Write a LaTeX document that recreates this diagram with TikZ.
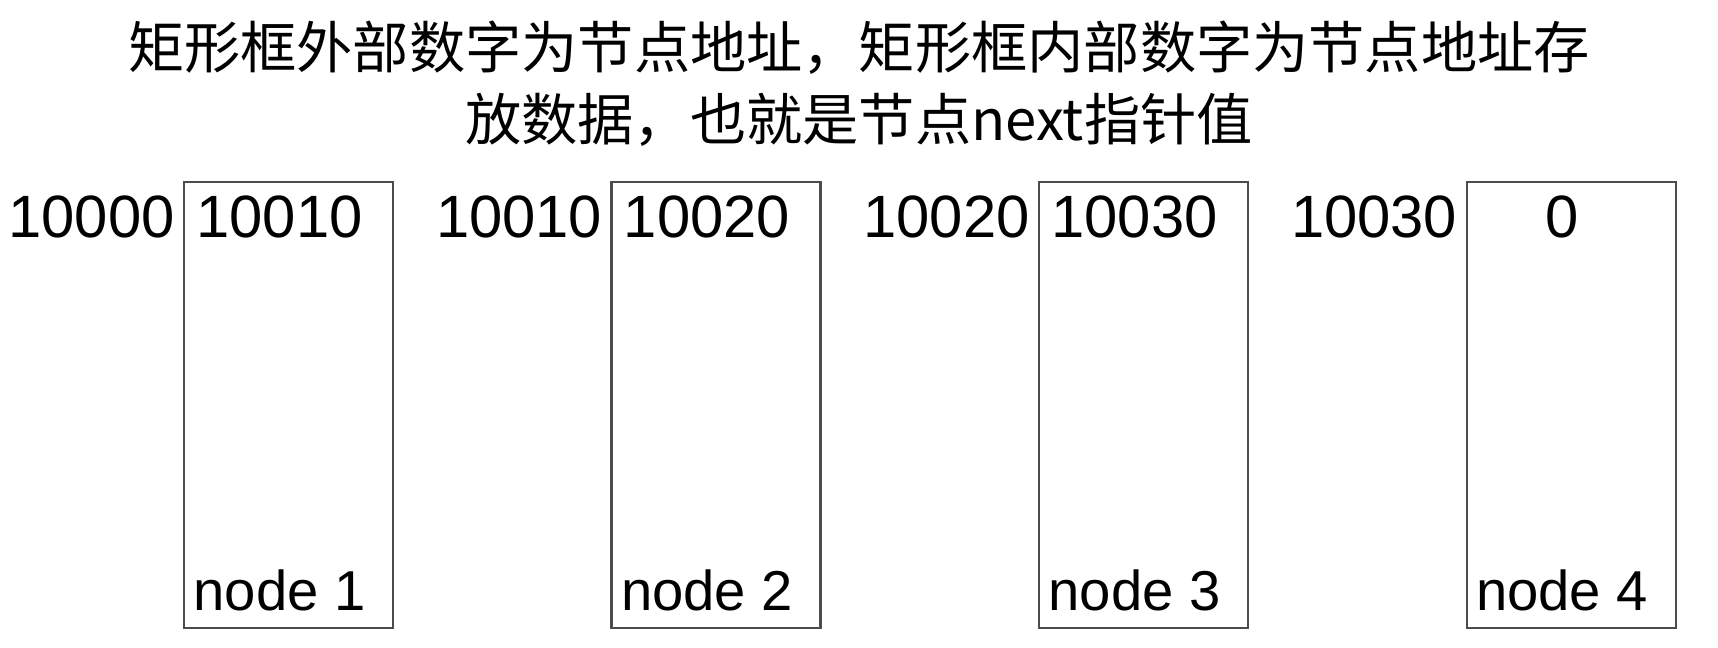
\documentclass[tikz,border=0pt]{standalone}
\usepackage{fontspec}
\setmainfont{Liberation Sans}
\newfontfamily\cjk{Noto Sans CJK SC}
\usetikzlibrary{positioning}
\begin{document}
\begin{tikzpicture}[x=0.02cm,y=-0.02cm,node distance=4.33cm,
    font=\fontsize{32}{40.8}\selectfont,
    mem node/.style={draw=black!70,line width=1.2pt,minimum width=4.18cm,minimum height=8.92cm,inner sep=0pt},
    num/.style={font=\fontsize{34}{40}\selectfont},
    addr node/.style={num,inner sep=0pt}, data node/.style={inner sep=0pt,xshift=-0.18cm}]
\useasboundingbox (0,0) rectangle (1718,648);

\node[align=center,inner sep=0pt,font=\cjk\fontsize{32}{40.8}\selectfont] (title) at (859,84)
    {矩形框外部数字为节点地址，矩形框内部数字为节点地址存\\放数据，也就是节点next指针值};

\node[mem node]                 (1)     at (288.5,405)  {};
\node[mem node]                 (2)     [right=of 1]    {};
\node[mem node]                 (3)     [right=of 2]    {};
\node[mem node]                 (4)     [right=of 3]    {};

\node[addr node]    (a1)    [below left=0.28cm and 0.16cm of 1.north west]  {10000};
\node[addr node]    (a2)    [below left=0.28cm and 0.16cm of 2.north west]  {10010};
\node[addr node]    (a3)    [below left=0.28cm and 0.16cm of 3.north west]  {10020};
\node[addr node]    (a4)    [below left=0.28cm and 0.16cm of 4.north west]  {10030};

\node[data node,num]    (v1)    [below=0.28cm of 1.north]   {10010};
\node[data node,num]    (v2)    [below=0.28cm of 2.north]   {10020};
\node[data node,num]    (v3)    [below=0.28cm of 3.north]   {10030};
\node[data node,num]    (v4)    [below=0.28cm of 4.north]   {0};

\node[data node]    (l1)    [above=0.36cm of 1.south]   {node 1};
\node[data node]    (l2)    [above=0.36cm of 2.south]   {node 2};
\node[data node]    (l3)    [above=0.36cm of 3.south]   {node 3};
\node[data node]    (l4)    [above=0.36cm of 4.south]   {node 4};
\end{tikzpicture}
\end{document}
